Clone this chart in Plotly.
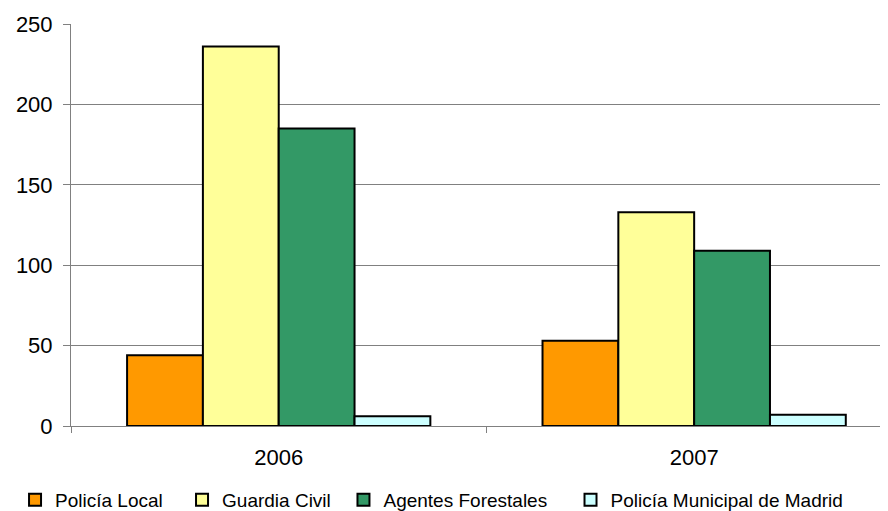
import plotly.graph_objects as go

years = ["2006", "2007"]
series_names = ["Policía Local", "Guardia Civil", "Agentes Forestales", "Policía Municipal de Madrid"]
policia_local = [44, 53]
guardia_civil = [236, 133]
agentes_forestales = [185, 109]
policia_municipal = [6, 7]
colors = ["#FF9900", "#FFFF99", "#339966", "#CCFFFF"]
y_ticks = [0, 50, 100, 150, 200, 250]

values = [policia_local, guardia_civil, agentes_forestales, policia_municipal]
legend_ids = ["legend", "legend2", "legend3", "legend4"]
legend_x = [-0.0685, 0.1359, 0.3335, 0.6114]

font_family = "Liberation Sans, Arial, sans-serif"

fig = go.Figure()
for name, vals, col, lid in zip(series_names, values, colors, legend_ids):
    fig.add_trace(go.Bar(
        x=years, y=vals, name=name, legend=lid,
        marker=dict(color=col, line=dict(color="#000000", width=2)),
    ))

legend_layout = {}
for lid, lx in zip(legend_ids, legend_x):
    legend_layout[lid] = dict(
        orientation="h", x=lx, xanchor="left", y=-0.184, yanchor="middle",
        font=dict(size=19, family=font_family), bgcolor="rgba(0,0,0,0)",
        borderwidth=0,
    )

fig.update_layout(
    width=880, height=503,
    margin=dict(l=63, r=0, t=16, b=85, autoexpand=False),
    paper_bgcolor="white", plot_bgcolor="white",
    barmode="group", bargap=0.27, bargroupgap=0,
    font=dict(family=font_family, color="#000000"),
    showlegend=True,
    xaxis=dict(
        type="category", range=[-0.5, 1.4666], automargin=False,
        showline=True, linecolor="#808080", linewidth=1,
        ticks="outside", tickson="boundaries", ticklen=6, tickcolor="#808080",
        tickfont=dict(size=22), ticklabelstandoff=12,
        showgrid=False,
    ),
    yaxis=dict(
        range=[0, 250], tickvals=y_ticks, automargin=False,
        showline=True, linecolor="#808080", linewidth=1,
        ticks="outside", ticklen=7, tickcolor="#808080",
        tickfont=dict(size=22), ticklabelstandoff=6,
        showgrid=True, gridcolor="#808080", gridwidth=1,
        zeroline=True, zerolinecolor="#808080", zerolinewidth=1,
    ),
    **legend_layout,
)

fig.write_html("out.html")
